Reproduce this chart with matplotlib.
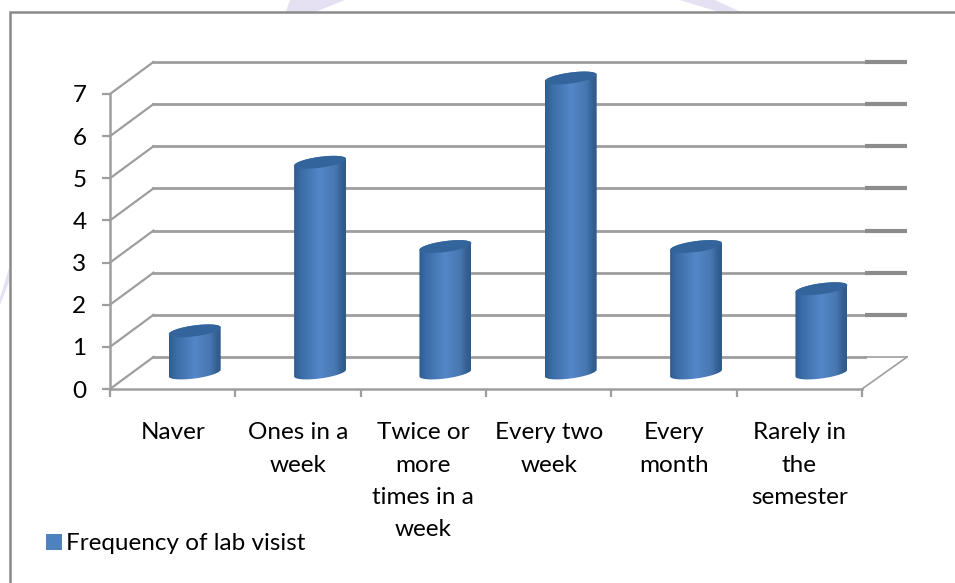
import matplotlib
matplotlib.use("Agg")
from matplotlib import pyplot as plt
from matplotlib.patches import PathPatch, Patch, Polygon, Rectangle
from matplotlib.path import Path
from matplotlib.colors import LinearSegmentedColormap
import numpy as np

# data
categories = ["Naver", "Ones in a\nweek", "Twice or\nmore\ntimes in a\nweek", "Every two\nweek",
              "Every\nmonth", "Rarely in\nthe\nsemester"]
values = [1, 5, 3, 7, 3, 2]
y_ticks = [0, 1, 2, 3, 4, 5, 6, 7]
series_name = "Frequency of lab visist"

W, H = 955, 583
GRAY = "#9e9e9e"
TICKGRAY = "#8c8c8c"
FONT = "Lato"
FS = 17.5

plt.rcParams["font.family"] = FONT

fig = plt.figure(figsize=(W / 100, H / 100), dpi=100, facecolor="white")

# faint watermark pieces outside the chart frame
for pts in ([(290, 0), (345, 0), (310, 14), (285, 14)],
            [(680, 0), (715, 0), (745, 14), (725, 14)],
            [(0, 298), (9, 268), (9, 282), (0, 305)]):
    pts = [(x / W, 1 - y / H) for x, y in pts]
    fig.add_artist(Polygon(pts, closed=True, transform=fig.transFigure, fc="#e6e0f3", ec="none", zorder=-2))

# chart frame runs off the right and bottom of the picture
fig.add_artist(Rectangle((9.5 / W, -0.05), 1.0, 1.05 - 12 / H, transform=fig.transFigure,
                         fc="white", ec="#8a8a8a", lw=1.8, zorder=-1))

ax = fig.add_axes([110 / W, 1 - 389 / H, 752 / W, 295 / H])
ax.patch.set_alpha(0)
ax.set_xlim(0, 6)
ax.set_ylim(0, 7)

# depth of the fake 3d box, in data units
dx = 0.347
dy = 0.76

for v in y_ticks:
    ax.plot([0, dx], [v, v + dy], color=GRAY, lw=1.6, clip_on=False, zorder=1)
    ax.plot([dx, 6.02], [v + dy, v + dy], color=GRAY, lw=2.0, clip_on=False, zorder=1)
    if v > 0:
        ax.plot([6.02, 6.36], [v + dy, v + dy], color=TICKGRAY, lw=3.0, clip_on=False, zorder=1,
                solid_capstyle="butt")
ax.plot([6.0, 6.36], [0, dy], color=GRAY, lw=1.2, clip_on=False, zorder=1)
ax.plot([6.02, 6.36], [dy, dy], color=GRAY, lw=1.2, clip_on=False, zorder=1)

# cylinders
cmap = LinearSegmentedColormap.from_list("cyl", [(0, "#305d92"), (0.12, "#3a6ba5"), (0.5, "#5487c9"),
                                                 (0.8, "#4877b0"), (0.93, "#335f92"), (1, "#2f5a8b")])
grad = np.linspace(0, 1, 64).reshape(1, -1)
half_w = 0.207
base = 0.38
ry = 0.13
tilt = 0.08
shift = 0.676
t = np.linspace(0, 2 * np.pi, 80)

for i, v in enumerate(values):
    cx = i + shift
    # front half of the base and of the top, joined up
    tb = np.linspace(np.pi, 2 * np.pi, 40)
    xb = cx + half_w * np.cos(tb)
    yb = base + ry * np.sin(tb) + tilt * np.cos(tb)
    tt = np.linspace(0, np.pi, 40)
    xt = cx + half_w * np.cos(tt)
    yt = base + v + ry * np.sin(tt) + tilt * np.cos(tt)
    verts = np.column_stack([np.r_[xb, xt], np.r_[yb, yt]])
    body = PathPatch(Path(np.vstack([verts, verts[0]]), closed=True), fc="none", ec="none",
                     transform=ax.transData)
    ax.add_patch(body)
    im = ax.imshow(grad, cmap=cmap, aspect="auto", zorder=3,
                   extent=(cx - half_w, cx + half_w, 0, base + v + 0.3))
    im.set_clip_path(body)
    im.set_clip_box(fig.bbox)
    # lid
    ax.fill(cx + half_w * np.cos(t), base + v + ry * np.sin(t) + tilt * np.cos(t),
            color="#33659c", zorder=4, clip_on=False, lw=0)

ax.set_xlim(0, 6)
ax.set_ylim(0, 7)

# axes
for s in ("top", "right"):
    ax.spines[s].set_visible(False)
for s in ("left", "bottom"):
    ax.spines[s].set_color(GRAY)
    ax.spines[s].set_linewidth(1.8)
ax.set_xticks(range(7))
ax.set_xticklabels([""] * 7)
ax.set_yticks(y_ticks)
ax.tick_params(axis="y", length=6, width=1.6, color=GRAY, labelsize=FS, pad=11, labelcolor="black")
ax.tick_params(axis="x", length=5.5, width=1.6, color=GRAY)

for i, name in enumerate(categories):
    ax.annotate(name, (i + 0.5, 0), xytext=(0, -24), textcoords="offset points", ha="center", va="top",
                fontsize=FS, color="black", linespacing=1.66, annotation_clip=False)

fig.legend(handles=[Patch(fc="#4f81bd", ec="none", label=series_name)], loc="center left",
           bbox_to_anchor=(36 / W, 1 - 544 / H), frameon=False, fontsize=FS,
           handlelength=0.68, handleheight=0.68, handletextpad=0.15, borderaxespad=0, borderpad=0.4)

fig.savefig("out.png", dpi=100, facecolor="white")
